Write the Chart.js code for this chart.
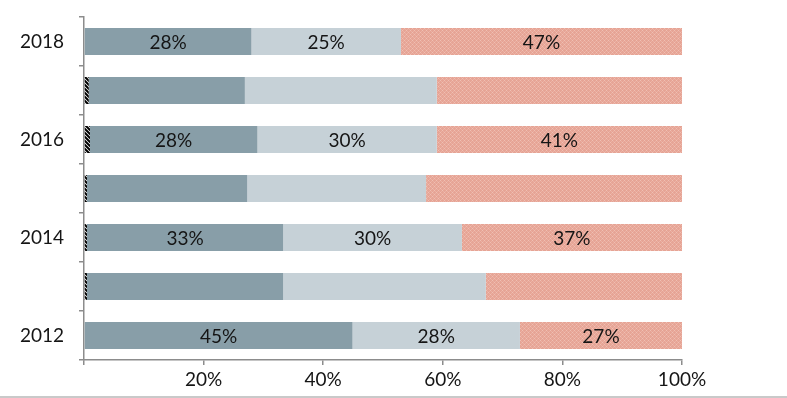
<!DOCTYPE html>
<html>
<head>
<meta charset="utf-8">
<script src="https://cdn.jsdelivr.net/npm/chart.js@4"></script>
<style>
  html, body { margin: 0; padding: 0; background: #ffffff; }
  #wrap { position: relative; width: 787px; height: 398px; overflow: hidden; }
  #c { display: block; }
  #edge { position: absolute; left: 0; top: 396px; width: 787px; height: 2px; background: #c9c9c9; }
</style>
</head>
<body>
<div id="wrap">
  <canvas id="c" width="787" height="398"></canvas>
  <div id="edge"></div>
</div>
<script>
// ---- data (top to bottom) ----
const years = ['2018', '2017', '2016', '2015', '2014', '2013', '2012'];
const hatchValues = [0, 0.8, 1.0, 0.5, 0.5, 0.5, 0];
const darkValues  = [28, 26.1, 28, 26.8, 32.8, 32.8, 44.9];
const lightValues = [25, 32.1, 30, 29.9, 29.9, 33.9, 28];
const salmonValues = [47, 41, 41, 42.8, 36.8, 32.8, 27.1];
const labeledYears = ['2018', '2016', '2014', '2012'];
const xTicks = [0, 20, 40, 60, 80, 100];

// ---- patterns ----
function makeHatch() {
  const p = document.createElement('canvas');
  p.width = 4; p.height = 4;
  const g = p.getContext('2d');
  g.fillStyle = '#ffffff'; g.fillRect(0, 0, 4, 4);
  g.strokeStyle = '#000000'; g.lineWidth = 2;
  g.beginPath();
  g.moveTo(-1, -1); g.lineTo(5, 5);
  g.moveTo(-1, 3); g.lineTo(1, 5);
  g.moveTo(3, -1); g.lineTo(5, 1);
  g.stroke();
  return document.getElementById('c').getContext('2d').createPattern(p, 'repeat');
}
function makeCross() {
  const p = document.createElement('canvas');
  p.width = 4; p.height = 4;
  const g = p.getContext('2d');
  g.fillStyle = '#e6a495'; g.fillRect(0, 0, 4, 4);
  g.fillStyle = '#f0bfb3';
  g.fillRect(0, 0, 1, 1); g.fillRect(2, 2, 1, 1);
  g.fillStyle = '#ebb1a4';
  g.fillRect(1, 1, 1, 1); g.fillRect(3, 3, 1, 1);
  g.fillRect(3, 1, 1, 1); g.fillRect(1, 3, 1, 1);
  return document.getElementById('c').getContext('2d').createPattern(p, 'repeat');
}

const labelPlugin = {
  id: 'segLabels',
  afterDatasetsDraw(chart) {
    const ctx = chart.ctx;
    ctx.save();
    ctx.font = '19px Lato, "Open Sans", sans-serif';
    ctx.fillStyle = '#151515';
    ctx.textAlign = 'center';
    ctx.textBaseline = 'middle';
    chart.data.datasets.forEach((ds, di) => {
      if (!ds.showLabels) return;
      const meta = chart.getDatasetMeta(di);
      meta.data.forEach((bar, i) => {
        if (!labeledYears.includes(years[i])) return;
        const v = ds.data[i];
        const x = (bar.x + bar.base) / 2;
        ctx.fillText(Math.round(v) + '%', x, bar.y + 1);
      });
    });
    ctx.restore();
  }
};

const common = { barPercentage: 0.55, categoryPercentage: 1.0, borderWidth: 0, borderSkipped: false };

new Chart(document.getElementById('c'), {
  type: 'bar',
  data: {
    labels: years,
    datasets: [
      Object.assign({ label: 'a', data: hatchValues, backgroundColor: makeHatch(), showLabels: false }, common),
      Object.assign({ label: 'b', data: darkValues, backgroundColor: '#889ea8', showLabels: true }, common),
      Object.assign({ label: 'c', data: lightValues, backgroundColor: '#c6d1d7', showLabels: true }, common),
      Object.assign({ label: 'd', data: salmonValues, backgroundColor: makeCross(), showLabels: true }, common)
    ]
  },
  options: {
    indexAxis: 'y',
    responsive: false,
    animation: false,
    events: [],
    layout: { padding: { left: 0, right: 105, top: 17, bottom: 0 } },
    plugins: { legend: { display: false }, tooltip: { enabled: false } },
    scales: {
      x: {
        stacked: true,
        min: 0, max: 100,
        afterBuildTicks(scale) { scale.ticks = xTicks.map(v => ({ value: v })); },
        afterFit(scale) { scale.height = 38; scale.paddingLeft = 0; scale.paddingRight = 0; },
        ticks: {
          callback: v => (v === 0 ? '' : v + '%'),
          color: '#151515',
          font: { family: 'Lato, "Open Sans", sans-serif', size: 19 },
          padding: 3,
          maxRotation: 0
        },
        grid: { drawOnChartArea: false, drawTicks: true, tickLength: 5, color: '#8c8c8c', lineWidth: 1.5 },
        border: { display: true, color: '#8c8c8c', width: 1.5 }
      },
      y: {
        stacked: true,
        afterFit(scale) { scale.width = 84; scale.paddingTop = 0; scale.paddingBottom = 0; },
        ticks: {
          callback: function (v, i) { const y = years[i]; return labeledYears.includes(y) ? y : ''; },
          color: '#151515',
          font: { family: 'Lato, "Open Sans", sans-serif', size: 19 },
          padding: 15,
          autoSkip: false
        },
        grid: { offset: true, drawOnChartArea: false, drawTicks: true, tickLength: 5, color: '#8c8c8c', lineWidth: 1.5 },
        border: { display: true, color: '#8c8c8c', width: 1.5 }
      }
    }
  },
  plugins: [labelPlugin]
});
</script>
</body>
</html>
